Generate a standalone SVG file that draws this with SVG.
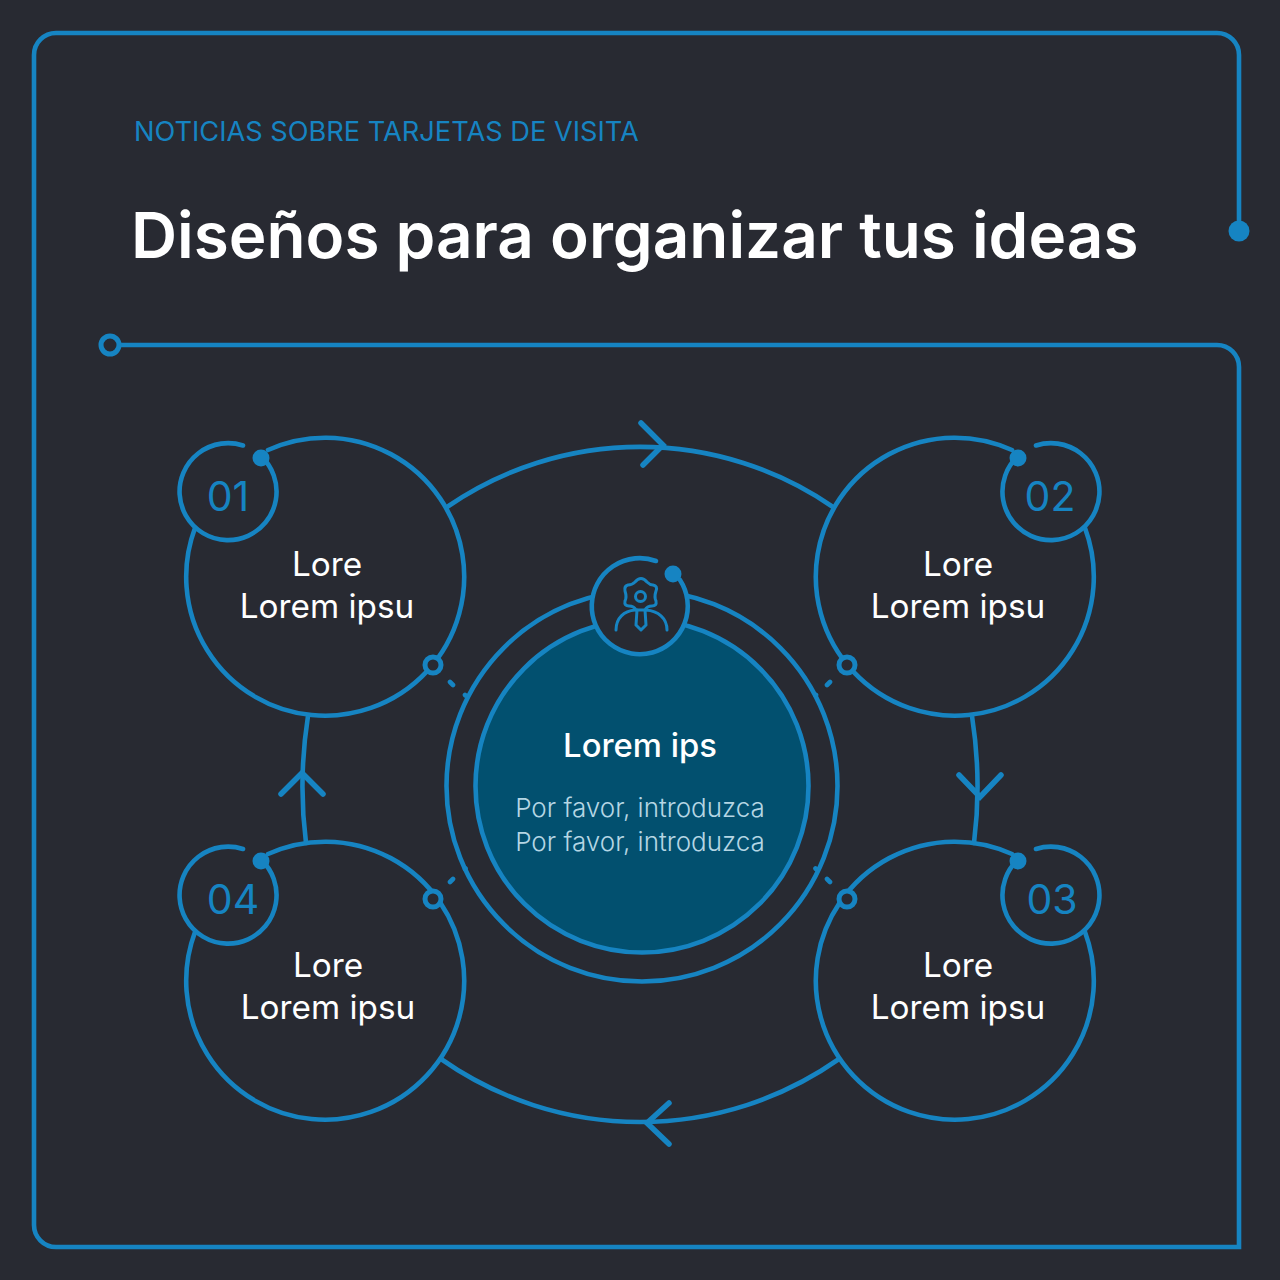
<svg xmlns="http://www.w3.org/2000/svg" width="1280" height="1280" viewBox="0 0 1280 1280">
<style>
text{font-family:Inter,"Noto Sans","Liberation Sans",sans-serif}
.l{fill:none;stroke:#1684c2;stroke-width:4.600;stroke-linecap:round}
.ch{stroke-width:5.500}
.dot{fill:#1684c2}
.ring{fill:#282a32;stroke:#1684c2;stroke-width:5}
.num{fill:#1684c2;font-size:41px;text-anchor:middle}
.lab{fill:#fff;font-size:33.300px;text-anchor:middle}
.sub{fill:#b5d6e4;font-size:26px;font-weight:300;text-anchor:middle}
.ic{fill:none;stroke:#1684c2;stroke-width:3;stroke-linecap:round;stroke-linejoin:round}
</style>
<rect width="1280" height="1280" fill="#282a32"/>
<g id="frame">
<path class="l" d="M1239 231V55A22 22 0 0 0 1217 33H56A22 22 0 0 0 34 55V1225A22 22 0 0 0 56 1247H1239V367A22 22 0 0 0 1217 345H110"/>
<circle class="dot" cx="1239" cy="231" r="10.500"/>
<circle class="ring" cx="110" cy="345" r="9"/>
</g>
<text x="134" y="141" fill="#1684c2" font-size="27.200">NOTICIAS SOBRE TARJETAS DE VISITA</text>
<text x="131" y="258" fill="#fff" font-size="63.800" font-weight="600">Diseños para organizar tus ideas</text>
<g id="connectors">
<path class="l" d="M447 507A340 340 0 0 1 833 507"/>
<path class="l ch" d="M641 423L663 445L643 465"/>
<path class="l" d="M441 1059A346 346 0 0 0 839 1059"/>
<path class="l ch" d="M669 1103L647 1123L669 1144"/>
<path class="l" d="M972 716Q982 780 974 843"/>
<path class="l ch" d="M959 775L980 797L1001 775"/>
<path class="l" d="M308 716Q298 780 306 843"/>
<path class="l ch" d="M281 794L302 773L323 794"/>
<path class="l" d="M450 682L453 685M465 695L465.500 695.500M830 682L827 685M816 695L815.500 695.500M830 882L827 879M816 869L815.500 868.500M450 882L453 879M465 869L465.500 868.500"/>
</g>
<g id="center">
<circle class="l" cx="642" cy="786" r="195.500"/>
<circle cx="642" cy="786" r="166.500" fill="#02506f" stroke="#1684c2" stroke-width="4.600"/>
<text class="lab" x="640" y="757" font-weight="500" style="font-size:32.800px">Lorem ips</text>
<text class="sub" x="640" y="817">Por favor, introduzca</text>
<text class="sub" x="640" y="851">Por favor, introduzca</text>
</g>
<g id="icon">
<circle cx="640" cy="606" r="48" fill="#282a32"/>
<path class="l" d="M656 561A48 48 0 1 0 680 580"/>
<circle class="dot" cx="673" cy="574" r="8.500"/>
<path class="ic" d="M635 582Q641 575 647 582Q650 585 653 585Q658 586 656 591Q654 597 656 601Q657 606 652 606Q647 606 645 610H636Q634 606 629 606Q624 606 625 601Q627 597 625 591Q624 586 628 585Q632 585 635 582Z"/>
<circle class="ic" cx="640.500" cy="596.500" r="5"/>
<path class="ic" d="M616 630C616 618 624 611 635 610M646 610C658 611 667 618 667 630M637 610L636 625L641 630L646 625L645 610"/>
</g>
<g id="node1">
<path class="l" d="M268 450A139 139 0 1 1 195 528"/>
<path class="l" d="M243 445.500A48.500 48.500 0 1 0 262 457"/>
<circle class="dot" cx="261" cy="458" r="8.500"/>
<circle class="ring" cx="433" cy="665" r="8"/>
<text class="num" x="228" y="511">01</text>
<text class="lab" x="327" y="576">Lore</text>
<text class="lab" x="327" y="618">Lorem ipsu</text>
</g>
<g id="node2">
<path class="l" d="M1012 450A139 139 0 1 0 1085 528"/>
<path class="l" d="M1036 445.500A48.500 48.500 0 1 1 1017 457"/>
<circle class="dot" cx="1018" cy="458" r="8.500"/>
<circle class="ring" cx="847" cy="665" r="8"/>
<text class="num" x="1050" y="511">02</text>
<text class="lab" x="958" y="576">Lore</text>
<text class="lab" x="958" y="618">Lorem ipsu</text>
</g>
<g id="node3">
<path class="l" d="M1012 854A139 139 0 1 0 1085 932"/>
<path class="l" d="M1036 849A48.500 48.500 0 1 1 1017 860.500"/>
<circle class="dot" cx="1018" cy="861" r="8.500"/>
<circle class="ring" cx="847" cy="899" r="8"/>
<text class="num" x="1052" y="914">03</text>
<text class="lab" x="958" y="977">Lore</text>
<text class="lab" x="958" y="1019">Lorem ipsu</text>
</g>
<g id="node4">
<path class="l" d="M268 854A139 139 0 1 1 195 932"/>
<path class="l" d="M243 849A48.500 48.500 0 1 0 262 860.500"/>
<circle class="dot" cx="261" cy="861" r="8.500"/>
<circle class="ring" cx="433" cy="899" r="8"/>
<text class="num" x="233" y="914">04</text>
<text class="lab" x="328" y="977">Lore</text>
<text class="lab" x="328" y="1019">Lorem ipsu</text>
</g>
</svg>
